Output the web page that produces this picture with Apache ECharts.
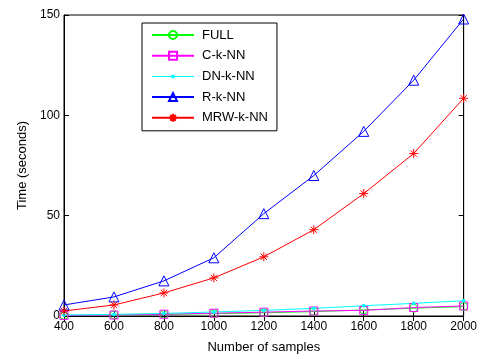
<!DOCTYPE html>
<html><head><meta charset="utf-8">
<script src="https://cdn.jsdelivr.net/npm/echarts@6/dist/echarts.min.js"></script>
<style>html,body{margin:0;padding:0;background:#fff}#c{width:480px;height:359px}</style>
</head><body><div id="c"></div>
<script>
var samples = [400, 600, 800, 1000, 1200, 1400, 1600, 1800, 2000];
var full   = [0.3, 0.5, 0.8, 1.2, 1.6, 2.2, 3.0, 3.9, 4.7];
var cknn   = [0.3, 0.5, 0.9, 1.4, 1.9, 2.5, 2.8, 4.2, 5.0];
var dnknn  = [0.5, 0.8, 1.3, 2.0, 2.8, 3.8, 5.1, 6.3, 7.6];
var rknn   = [5.5, 9.5, 17.5, 29, 51, 70, 92, 117.5, 148];
var mrwknn = [2.5, 5.5, 11.5, 19, 29.5, 43, 61, 81, 108.5];
var yTicks = [0, 50, 100, 150];
var seriesNames = ['FULL','C-k-NN','DN-k-NN','R-k-NN','MRW-k-NN'];

function pairs(v){ return samples.map(function(s,i){ return [s, v[i]]; }); }
var star = 'path://M0,-5L0,5M-5,0L5,0M-3.5,-3.5L3.5,3.5M-3.5,3.5L3.5,-3.5';
function ser(name, vals, color, symbol, size, fill){
  return {
    name: name, type: 'line', data: pairs(vals), symbol: symbol, symbolSize: size,
    lineStyle: {color: color, width: 1},
    itemStyle: {color: fill || 'rgba(0,0,0,0)', borderColor: color, borderWidth: 1},
    emphasis: {disabled: true}, animation: false
  };
}
var font = 'Liberation Sans, Arial, sans-serif';
var dnIcon = 'path://M0,1.5H42V2.5H0Z M21,0A2,2 0 1 1 21,4A2,2 0 1 1 21,0Z';
var chart = echarts.init(document.getElementById('c'));
chart.setOption({
  backgroundColor: '#fff',
  grid: {left: 64, right: 14, top: 15, bottom: 43, show: true, borderColor: '#000', borderWidth: 1},
  legend: {
    orient: 'vertical', left: 142, top: 23, itemWidth: 42, itemHeight: 10, itemGap: 6.7,
    symbolKeepAspect: true,
    padding: [5, 9, 6, 9], borderColor: '#000', borderWidth: 1, backgroundColor: '#fff',
    textStyle: {fontFamily: font, fontSize: 13, lineHeight: 14, color: '#000', padding: [0,0,0,3]},
    data: seriesNames.map(function(n){
      return n === 'DN-k-NN' ? {name: n, icon: dnIcon, itemStyle: {color: '#00ffff', borderWidth: 0}} : {name: n};
    })
  },
  xAxis: [{
    type: 'value', min: samples[0], max: samples[samples.length-1], interval: 200,
    name: 'Number of samples', nameLocation: 'middle', nameGap: 25,
    nameTextStyle: {fontFamily: font, fontSize: 13, color: '#000'},
    axisLine: {lineStyle: {color: '#000'}},
    axisTick: {inside: true, length: 5, lineStyle: {color: '#000'}},
    axisLabel: {fontFamily: font, fontSize: 12, color: '#000', margin: 5,
      formatter: function(v){ return String(v); }},
    splitLine: {show: false}
  },{
    type: 'value', position: 'top', min: samples[0], max: samples[samples.length-1], interval: 200,
    axisLine: {lineStyle: {color: '#000'}},
    axisTick: {inside: true, length: 5, lineStyle: {color: '#000'}},
    axisLabel: {show: false}, splitLine: {show: false}
  }],
  yAxis: [{
    type: 'value', min: yTicks[0], max: yTicks[yTicks.length-1], interval: 50,
    name: 'Time (seconds)', nameLocation: 'middle', nameGap: 34,
    nameTextStyle: {fontFamily: font, fontSize: 13, color: '#000'},
    axisLine: {show: true, lineStyle: {color: '#000'}},
    axisTick: {show: true, inside: true, length: 5, lineStyle: {color: '#000'}},
    axisLabel: {fontFamily: font, fontSize: 12, color: '#000', margin: 4},
    splitLine: {show: false}
  },{
    type: 'value', position: 'right', min: yTicks[0], max: yTicks[yTicks.length-1], interval: 50,
    axisLine: {show: true, lineStyle: {color: '#000'}},
    axisTick: {show: true, inside: true, length: 5, lineStyle: {color: '#000'}},
    axisLabel: {show: false}, splitLine: {show: false}
  }],
  series: [
    ser('FULL', full, '#00ff00', 'circle', 8),
    ser('C-k-NN', cknn, '#ff00ff', 'rect', 8),
    ser('DN-k-NN', dnknn, '#00ffff', 'circle', 3, '#00ffff'),
    ser('R-k-NN', rknn, '#0000ff', 'triangle', 10),
    ser('MRW-k-NN', mrwknn, '#ff0000', star, 9)
  ]
});
</script></body></html>
